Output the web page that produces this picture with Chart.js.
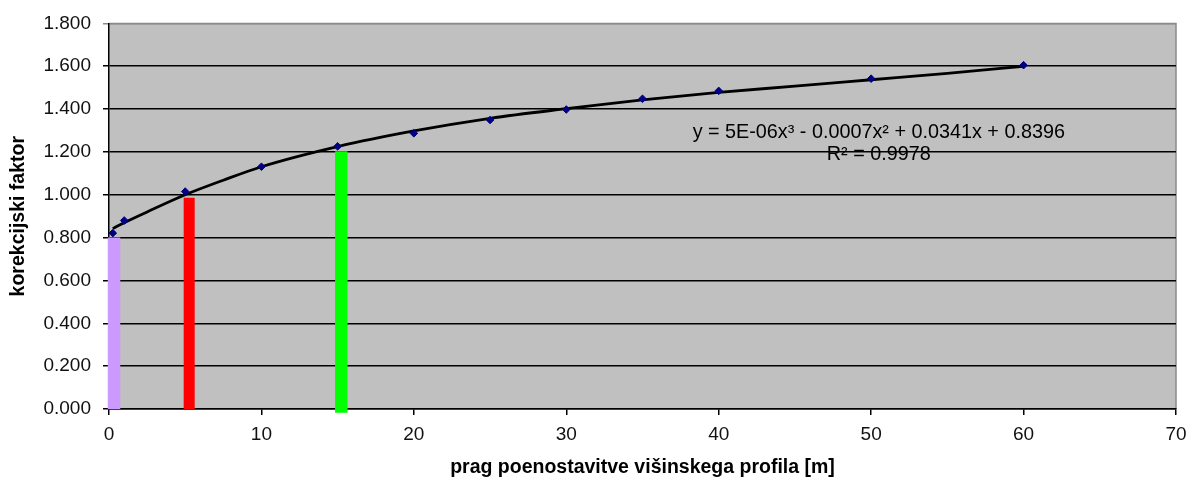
<!DOCTYPE html>
<html>
<head>
    <title>Korekcijski faktor</title>
    <script src="https://cdn.jsdelivr.net/npm/chart.js"></script>
    <style>
        body {
            margin: 0;
            background: #ffffff;
        }
        #chart {
            display: block;
        }
    </style>
</head>
<body>
    <canvas id="chart" width="1186" height="481"></canvas>

    <script>
        // measured points (prag [m] -> korekcijski faktor)
        const pragX = [0.25, 1, 5, 10, 15, 20, 25, 30, 35, 40, 50, 60];
        const faktorY = [0.821, 0.880, 1.015, 1.131, 1.226, 1.287, 1.349, 1.398, 1.448, 1.485, 1.542, 1.605];

        // polynomial trend line
        const trendX = [0.25, 1, 2.5, 5, 7.5, 10, 15, 20, 25, 30, 35, 40, 45, 50, 55, 60];
        const trendY = [0.842, 0.870, 0.920, 1.000, 1.068, 1.131, 1.225, 1.298, 1.357, 1.402, 1.443, 1.478, 1.507, 1.537, 1.567, 1.600];

        // three coloured markers (x position, bottom, top)
        const markerX = [0.33, 5.26, 15.24];
        const markerBottom = [0, 0, -0.018];
        const markerTop = [0.800, 0.986, 1.203];
        const markerColors = ["#cc99ff", "#ff0000", "#00ff00"];

        const xTicks = [0, 10, 20, 30, 40, 50, 60, 70];
        const yTicks = [0, 0.2, 0.4, 0.6, 0.8, 1.0, 1.2, 1.4, 1.6, 1.8];

        const equationText = "y = 5E-06x\u00B3 - 0.0007x\u00B2 + 0.0341x + 0.8396";
        const rSquaredText = "R\u00B2 = 0.9978";
        const labelPos = { x: 50.5, y1: 1.291, y2: 1.186 };

        const FONT = "'Liberation Sans', Arial, sans-serif";

        // grey plot area with thin grey frame
        const plotBackground = {
            id: "plotBackground",
            beforeDraw(chart) {
                const { ctx, chartArea: a } = chart;
                ctx.save();
                ctx.fillStyle = "#c0c0c0";
                ctx.fillRect(a.left, a.top, a.right - a.left, a.bottom - a.top);
                ctx.strokeStyle = "#8a8a8a";
                ctx.lineWidth = 1.5;
                ctx.beginPath();
                ctx.moveTo(a.left, a.top);
                ctx.lineTo(a.right, a.top);
                ctx.lineTo(a.right, a.bottom);
                ctx.stroke();
                ctx.restore();
            }
        };

        const equationLabel = {
            id: "equationLabel",
            afterDatasetsDraw(chart) {
                const { ctx, scales } = chart;
                const cx = scales.x.getPixelForValue(labelPos.x);
                ctx.save();
                ctx.font = "19.8px " + FONT;
                ctx.fillStyle = "#000000";
                ctx.textAlign = "center";
                ctx.textBaseline = "middle";
                ctx.fillText(equationText, cx, scales.y.getPixelForValue(labelPos.y1));
                ctx.fillText(rSquaredText, cx, scales.y.getPixelForValue(labelPos.y2));
                ctx.restore();
            }
        };

        const markerSets = markerX.map((x, i) => ({
            type: "line",
            data: [{ x: x, y: markerBottom[i] }, { x: x, y: markerTop[i] }],
            borderColor: markerColors[i],
            borderWidth: i === 1 ? 11 : 12.5,
            borderCapStyle: "butt",
            pointRadius: 0,
            clip: false,
            order: 3
        }));

        new Chart(document.getElementById("chart"), {
            type: "scatter",
            data: {
                datasets: [
                    {
                        data: pragX.map((x, i) => ({ x: x, y: faktorY[i] })),
                        pointStyle: "rectRot",
                        pointRadius: 3.8,
                        backgroundColor: "#000080",
                        borderColor: "#000080",
                        borderWidth: 1,
                        showLine: false,
                        order: 0
                    },
                    {
                        type: "line",
                        data: trendX.map((x, i) => ({ x: x, y: trendY[i] })),
                        borderColor: "#000000",
                        borderWidth: 2.8,
                        pointRadius: 0,
                        cubicInterpolationMode: "monotone",
                        order: 1
                    },
                    ...markerSets
                ]
            },
            options: {
                responsive: false,
                animation: false,
                layout: { padding: { top: 22, right: 10, left: 0, bottom: 0 } },
                plugins: {
                    legend: { display: false },
                    tooltip: { enabled: false }
                },
                scales: {
                    x: {
                        type: "linear",
                        min: 0,
                        max: 70,
                        afterFit(scale) {
                            scale.height = 72;
                            scale.paddingRight = 0;
                            scale.paddingLeft = 0;
                        },
                        afterBuildTicks(scale) { scale.ticks = xTicks.map(v => ({ value: v })); },
                        border: { display: true, color: "#000000", width: 1.5 },
                        grid: { drawOnChartArea: false, drawTicks: true, tickLength: 6, color: "#000000", lineWidth: 1.5 },
                        ticks: { color: "#111111", padding: 8, font: { family: FONT, size: 19 } },
                        title: {
                            display: true,
                            text: "prag poenostavitve višinskega profila [m]",
                            color: "#000000",
                            font: { family: FONT, size: 19.5, weight: "bold" },
                            padding: { top: 0, bottom: 2 }
                        }
                    },
                    y: {
                        type: "linear",
                        min: 0,
                        max: 1.8,
                        afterFit(scale) { scale.width = 109; },
                        afterBuildTicks(scale) { scale.ticks = yTicks.map(v => ({ value: v })); },
                        border: { display: true, color: "#000000", width: 1.5 },
                        grid: {
                            drawTicks: true,
                            tickLength: 6,
                            lineWidth: 1.5,
                            color: ctx => (ctx.tick && ctx.tick.value >= 1.8 ? "#8a8a8a" : "#000000")
                        },
                        ticks: {
                            color: "#111111",
                            padding: 12,
                            font: { family: FONT, size: 19 },
                            callback: v => Number(v).toFixed(3)
                        },
                        title: {
                            display: true,
                            text: "korekcijski faktor",
                            color: "#000000",
                            font: { family: FONT, size: 19.5, weight: "bold" },
                            padding: { top: 7, bottom: 0 }
                        }
                    }
                }
            },
            plugins: [plotBackground, equationLabel]
        });
    </script>
</body>
</html>
